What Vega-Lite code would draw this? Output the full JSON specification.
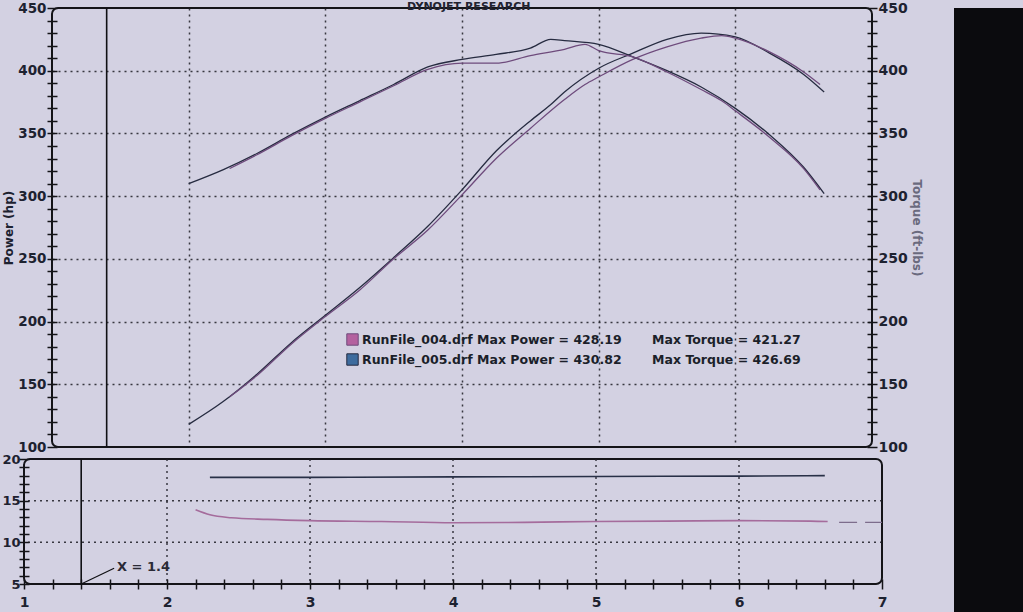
{
  "$schema": "https://vega.github.io/schema/vega-lite/v6.json",
  "background": "#d3d1e2",
  "padding": {"left": 0, "top": 0, "right": 0, "bottom": 0},
  "config": {"font": "DejaVu Sans", "axis": {"labelOverlap": false}},
  "datasets": {
    "pt": [
      {"run": "RunFile_005.drf", "rpm": 2.0, "hp": 118, "tq": 310},
      {"run": "RunFile_005.drf", "rpm": 2.25, "hp": 136, "tq": 321},
      {"run": "RunFile_005.drf", "rpm": 2.5, "hp": 158, "tq": 334},
      {"run": "RunFile_005.drf", "rpm": 2.75, "hp": 183, "tq": 349},
      {"run": "RunFile_005.drf", "rpm": 3.0, "hp": 205, "tq": 363},
      {"run": "RunFile_005.drf", "rpm": 3.25, "hp": 227, "tq": 376},
      {"run": "RunFile_005.drf", "rpm": 3.5, "hp": 251, "tq": 389},
      {"run": "RunFile_005.drf", "rpm": 3.75, "hp": 276, "tq": 403},
      {"run": "RunFile_005.drf", "rpm": 4.0, "hp": 305, "tq": 409},
      {"run": "RunFile_005.drf", "rpm": 4.25, "hp": 336, "tq": 413},
      {"run": "RunFile_005.drf", "rpm": 4.5, "hp": 360, "tq": 418},
      {"run": "RunFile_005.drf", "rpm": 4.65, "hp": 373, "tq": 425},
      {"run": "RunFile_005.drf", "rpm": 4.75, "hp": 383, "tq": 424},
      {"run": "RunFile_005.drf", "rpm": 5.0, "hp": 402, "tq": 421},
      {"run": "RunFile_005.drf", "rpm": 5.25, "hp": 414, "tq": 411},
      {"run": "RunFile_005.drf", "rpm": 5.5, "hp": 425, "tq": 400},
      {"run": "RunFile_005.drf", "rpm": 5.75, "hp": 430, "tq": 387},
      {"run": "RunFile_005.drf", "rpm": 6.0, "hp": 427, "tq": 370},
      {"run": "RunFile_005.drf", "rpm": 6.25, "hp": 414, "tq": 349},
      {"run": "RunFile_005.drf", "rpm": 6.5, "hp": 397, "tq": 323},
      {"run": "RunFile_005.drf", "rpm": 6.65, "hp": 383, "tq": 302},
      {"run": "RunFile_004.drf", "rpm": 2.3, "hp": 140, "tq": 322},
      {"run": "RunFile_004.drf", "rpm": 2.5, "hp": 157, "tq": 333},
      {"run": "RunFile_004.drf", "rpm": 2.75, "hp": 182, "tq": 348},
      {"run": "RunFile_004.drf", "rpm": 3.0, "hp": 204, "tq": 362},
      {"run": "RunFile_004.drf", "rpm": 3.25, "hp": 225, "tq": 375},
      {"run": "RunFile_004.drf", "rpm": 3.5, "hp": 250, "tq": 388},
      {"run": "RunFile_004.drf", "rpm": 3.75, "hp": 273, "tq": 401},
      {"run": "RunFile_004.drf", "rpm": 4.0, "hp": 301, "tq": 406},
      {"run": "RunFile_004.drf", "rpm": 4.25, "hp": 330, "tq": 406},
      {"run": "RunFile_004.drf", "rpm": 4.5, "hp": 354, "tq": 412},
      {"run": "RunFile_004.drf", "rpm": 4.75, "hp": 377, "tq": 417},
      {"run": "RunFile_004.drf", "rpm": 4.9, "hp": 389, "tq": 421},
      {"run": "RunFile_004.drf", "rpm": 5.0, "hp": 395, "tq": 416},
      {"run": "RunFile_004.drf", "rpm": 5.25, "hp": 409, "tq": 411},
      {"run": "RunFile_004.drf", "rpm": 5.5, "hp": 419, "tq": 399},
      {"run": "RunFile_004.drf", "rpm": 5.75, "hp": 426, "tq": 385},
      {"run": "RunFile_004.drf", "rpm": 5.9, "hp": 428, "tq": 376},
      {"run": "RunFile_004.drf", "rpm": 6.0, "hp": 426, "tq": 368},
      {"run": "RunFile_004.drf", "rpm": 6.25, "hp": 415, "tq": 347},
      {"run": "RunFile_004.drf", "rpm": 6.5, "hp": 399, "tq": 322},
      {"run": "RunFile_004.drf", "rpm": 6.62, "hp": 389, "tq": 305}
    ],
    "afr": [
      {"run": "RunFile_005.drf", "rpm": 2.3, "afr": 17.8},
      {"run": "RunFile_005.drf", "rpm": 3.0, "afr": 17.8},
      {"run": "RunFile_005.drf", "rpm": 4.0, "afr": 17.85},
      {"run": "RunFile_005.drf", "rpm": 5.0, "afr": 17.9},
      {"run": "RunFile_005.drf", "rpm": 6.0, "afr": 17.95},
      {"run": "RunFile_005.drf", "rpm": 6.6, "afr": 18.0},
      {"run": "RunFile_004.drf", "rpm": 2.2, "afr": 13.9},
      {"run": "RunFile_004.drf", "rpm": 2.3, "afr": 13.3},
      {"run": "RunFile_004.drf", "rpm": 2.45, "afr": 12.95},
      {"run": "RunFile_004.drf", "rpm": 2.7, "afr": 12.75},
      {"run": "RunFile_004.drf", "rpm": 3.0, "afr": 12.6},
      {"run": "RunFile_004.drf", "rpm": 3.5, "afr": 12.5},
      {"run": "RunFile_004.drf", "rpm": 4.0, "afr": 12.35},
      {"run": "RunFile_004.drf", "rpm": 4.5, "afr": 12.4},
      {"run": "RunFile_004.drf", "rpm": 5.0, "afr": 12.5},
      {"run": "RunFile_004.drf", "rpm": 5.5, "afr": 12.55},
      {"run": "RunFile_004.drf", "rpm": 6.0, "afr": 12.6},
      {"run": "RunFile_004.drf", "rpm": 6.5, "afr": 12.55},
      {"run": "RunFile_004.drf", "rpm": 6.62, "afr": 12.5}
    ],
    "tail": [
      {"rpm": 6.7, "afr": 12.4},
      {"rpm": 7.0, "afr": 12.4}
    ],
    "pointer": [
      {"rpm": 1.4, "afr": 5.0},
      {"rpm": 1.63, "afr": 6.9}
    ],
    "vgrid": [{"rpm": 2}, {"rpm": 3}, {"rpm": 4}, {"rpm": 5}, {"rpm": 6}],
    "hgrid": [{"afr": 10}, {"afr": 15}]
  },
  "hconcat": [
    {
      "concat": [
        {
          "hconcat": [
            {
              "width": 28,
              "height": 1,
              "view": {"stroke": null, "fill": null},
              "data": {"values": [{}]},
              "mark": {"type": "point", "opacity": 0},
              "encoding": {}
            },
            {
              "width": 820,
              "height": 439,
              "view": {"stroke": "#141418", "strokeWidth": 2, "cornerRadius": 6, "fill": null},
              "layer": [
                {
                  "data": {"name": "pt"},
                  "mark": {"type": "line", "strokeWidth": 1.3, "interpolate": "monotone"},
                  "encoding": {
                    "x": {"field": "rpm", "type": "quantitative", "scale": {"domain": [1, 7], "nice": false, "zero": false},
                      "axis": {"values": [2, 3, 4, 5, 6], "labels": false, "ticks": false, "domain": false, "title": null,
                        "grid": true, "gridDash": [2, 4], "gridColor": "#1c1c24", "gridWidth": 1.5, "gridOpacity": 0.85}},
                    "y": {"field": "hp", "type": "quantitative", "scale": {"domain": [100, 450], "nice": false, "zero": false},
                      "axis": {"orient": "left",
                        "values": [100,110,120,130,140,150,160,170,180,190,200,210,220,230,240,250,260,270,280,290,300,310,320,330,340,350,360,370,380,390,400,410,420,430,440,450],
                        "labelExpr": "datum.value % 50 === 0 ? datum.label : ''",
                        "labelOverlap": false, "offset": -5, "tickSize": 10, "tickWidth": 1.5, "tickColor": "#141418",
                        "domain": false, "labelPadding": 1, "maxExtent": 40, "minExtent": 40,
                        "labelFont": "DejaVu Sans", "labelFontWeight": "bold", "labelFontSize": 13.5, "labelColor": "#1d2230",
                        "grid": true, "gridDash": [2, 4], "gridColor": "#1c1c24", "gridWidth": 1.5,
                        "gridOpacity": {"condition": {"test": "datum.value % 50 === 0 && datum.value > 100 && datum.value < 450", "value": 0.85}, "value": 0},
                        "title": "Power (hp)", "titleFont": "DejaVu Sans", "titleFontWeight": "bold", "titleFontSize": 12, "titleColor": "#1d2230", "titlePadding": 2}},
                    "color": {"field": "run", "type": "nominal",
                      "scale": {"domain": ["RunFile_004.drf", "RunFile_005.drf"], "range": ["#6e4b7c", "#262b40"]},
                      "legend": {"orient": "none", "legendX": 294, "legendY": 325, "title": null, "symbolType": "square", "symbolSize": 130,
                        "labelFont": "DejaVu Sans", "labelFontSize": 12.5, "labelFontWeight": "bold", "labelColor": "#1b1f2a", "labelLimit": 0,
                        "rowPadding": 3, "labelOffset": 3,
                        "labelExpr": "datum.label === 'RunFile_004.drf' ? 'RunFile_004.drf Max Power = 428.19\u00a0\u00a0\u00a0\u00a0\u00a0\u00a0\u00a0Max Torque = 421.27' : 'RunFile_005.drf Max Power = 430.82\u00a0\u00a0\u00a0\u00a0\u00a0\u00a0\u00a0Max Torque = 426.69'",
                        "encode": {"symbols": {"update": {"fill": {"signal": "datum.value === 'RunFile_004.drf' ? '#b4619f' : '#3e6c9e'"}, "stroke": {"value": "#3a3a4a"}, "strokeWidth": {"value": 1}, "opacity": {"value": 1}}}}}}
                  }
                },
                {
                  "data": {"name": "pt"},
                  "mark": {"type": "line", "strokeWidth": 1.3, "interpolate": "monotone"},
                  "encoding": {
                    "x": {"field": "rpm", "type": "quantitative", "axis": null},
                    "y": {"field": "tq", "type": "quantitative",
                      "axis": {"orient": "right",
                        "values": [100,110,120,130,140,150,160,170,180,190,200,210,220,230,240,250,260,270,280,290,300,310,320,330,340,350,360,370,380,390,400,410,420,430,440,450],
                        "labelExpr": "datum.value % 50 === 0 ? datum.label : ''",
                        "labelOverlap": false, "offset": -5, "tickSize": 10, "tickWidth": 1.5, "tickColor": "#141418",
                        "domain": false, "labelPadding": 1, "grid": false,
                        "labelFont": "DejaVu Sans", "labelFontWeight": "bold", "labelFontSize": 14, "labelColor": "#1d2230",
                        "title": "Torque (ft-lbs)", "titleFont": "DejaVu Sans", "titleFontWeight": "bold", "titleFontSize": 12, "titleColor": "#6a6a7e", "titlePadding": 2}},
                    "color": {"field": "run", "type": "nominal", "legend": null}
                  }
                },
                {
                  "data": {"values": [{}]},
                  "mark": {"type": "rule", "color": "#101014", "strokeWidth": 1.6},
                  "encoding": {"x": {"datum": 1.4, "type": "quantitative", "axis": null}}
                },
                {
                  "data": {"values": [{"t": "DYNOJET RESEARCH"}]},
                  "mark": {"type": "text", "baseline": "bottom", "dy": 4, "fontSize": 11, "fontWeight": "bold", "color": "#222230"},
                  "encoding": {
                    "x": {"datum": 4.05, "type": "quantitative", "axis": null},
                    "y": {"datum": 450, "type": "quantitative", "axis": null},
                    "text": {"field": "t"}
                  }
                }
              ],
              "resolve": {"axis": {"x": "independent", "y": "independent"}}
            }
          ],
          "spacing": 0,
          "bounds": "flush",
          "resolve": {"scale": {"color": "independent"}}
        },
        {
          "width": 858,
          "height": 125,
          "view": {"stroke": "#141418", "strokeWidth": 2, "cornerRadius": 6, "fill": null},
          "layer": [
            {
              "data": {"name": "vgrid"},
              "mark": {"type": "rule", "color": "#1c1c24", "strokeWidth": 1.5, "strokeDash": [2, 4], "opacity": 0.85},
              "encoding": {"x": {"field": "rpm", "type": "quantitative", "axis": null}}
            },
            {
              "data": {"name": "hgrid"},
              "mark": {"type": "rule", "color": "#1c1c24", "strokeWidth": 1.5, "strokeDash": [2, 4], "opacity": 0.85},
              "encoding": {"y": {"field": "afr", "type": "quantitative", "axis": null}}
            },
            {
              "data": {"name": "afr"},
              "mark": {"type": "line", "strokeWidth": 1.6, "interpolate": "monotone"},
              "encoding": {
                "x": {"field": "rpm", "type": "quantitative", "scale": {"domain": [1, 7], "nice": false, "zero": false},
                  "axis": {"values": [1,1.2,1.4,1.6,1.8,2,2.2,2.4,2.6,2.8,3,3.2,3.4,3.6,3.8,4,4.2,4.4,4.6,4.8,5,5.2,5.4,5.6,5.8,6,6.2,6.4,6.6,6.8,7],
                    "labelExpr": "abs(datum.value - round(datum.value)) < 0.01 ? '' + round(datum.value) : ''",
                    "labelOverlap": false, "labelFlush": false, "offset": -5, "tickSize": 10, "tickWidth": 1.5, "tickColor": "#141418",
                    "domain": false, "labelPadding": 6, "title": null, "grid": false,
                    "labelFont": "DejaVu Sans", "labelFontWeight": "bold", "labelFontSize": 14, "labelColor": "#1d2230"}},
                "y": {"field": "afr", "type": "quantitative", "scale": {"domain": [5, 20], "nice": false, "zero": false},
                  "axis": {"values": [5,6,7,8,9,10,11,12,13,14,15,16,17,18,19,20],
                    "labelExpr": "datum.value % 5 === 0 ? datum.label : ''",
                    "labelOverlap": false, "offset": -5, "tickSize": 10, "tickWidth": 1.5, "tickColor": "#141418",
                    "domain": false, "labelPadding": -1, "title": null, "grid": false,
                    "labelFont": "DejaVu Sans", "labelFontWeight": "bold", "labelFontSize": 13, "labelColor": "#1d2230"}},
                "color": {"field": "run", "type": "nominal",
                  "scale": {"domain": ["RunFile_004.drf", "RunFile_005.drf"], "range": ["#a56c9c", "#283047"]},
                  "legend": null}
              }
            },
            {
              "data": {"name": "tail"},
              "mark": {"type": "line", "strokeWidth": 1.4, "color": "#7d6d8c", "strokeDash": [18, 8]},
              "encoding": {"x": {"field": "rpm", "type": "quantitative", "axis": null}, "y": {"field": "afr", "type": "quantitative", "axis": null}}
            },
            {
              "data": {"values": [{}]},
              "mark": {"type": "rule", "color": "#101014", "strokeWidth": 1.6},
              "encoding": {"x": {"datum": 1.4, "type": "quantitative", "axis": null}}
            },
            {
              "data": {"name": "pointer"},
              "mark": {"type": "line", "color": "#101014", "strokeWidth": 1.2},
              "encoding": {"x": {"field": "rpm", "type": "quantitative", "axis": null}, "y": {"field": "afr", "type": "quantitative", "axis": null}}
            },
            {
              "data": {"values": [{"rpm": 1.65, "afr": 7.0, "t": "X = 1.4"}]},
              "mark": {"type": "text", "align": "left", "baseline": "middle", "fontSize": 13, "fontWeight": "bold", "color": "#2a2a36"},
              "encoding": {"x": {"field": "rpm", "type": "quantitative", "axis": null}, "y": {"field": "afr", "type": "quantitative", "axis": null}, "text": {"field": "t"}}
            }
          ],
          "resolve": {"axis": {"x": "independent", "y": "independent"}}
        }
      ],
      "columns": 1,
      "spacing": -3,
      "bounds": "full",
      "resolve": {"scale": {"color": "independent"}}
    },
    {
      "width": 80,
      "height": 620,
      "view": {"stroke": null, "fill": "#0b0b0e"},
      "data": {"values": [{}]},
      "mark": {"type": "point", "opacity": 0},
      "encoding": {}
    }
  ],
  "spacing": 30
}
